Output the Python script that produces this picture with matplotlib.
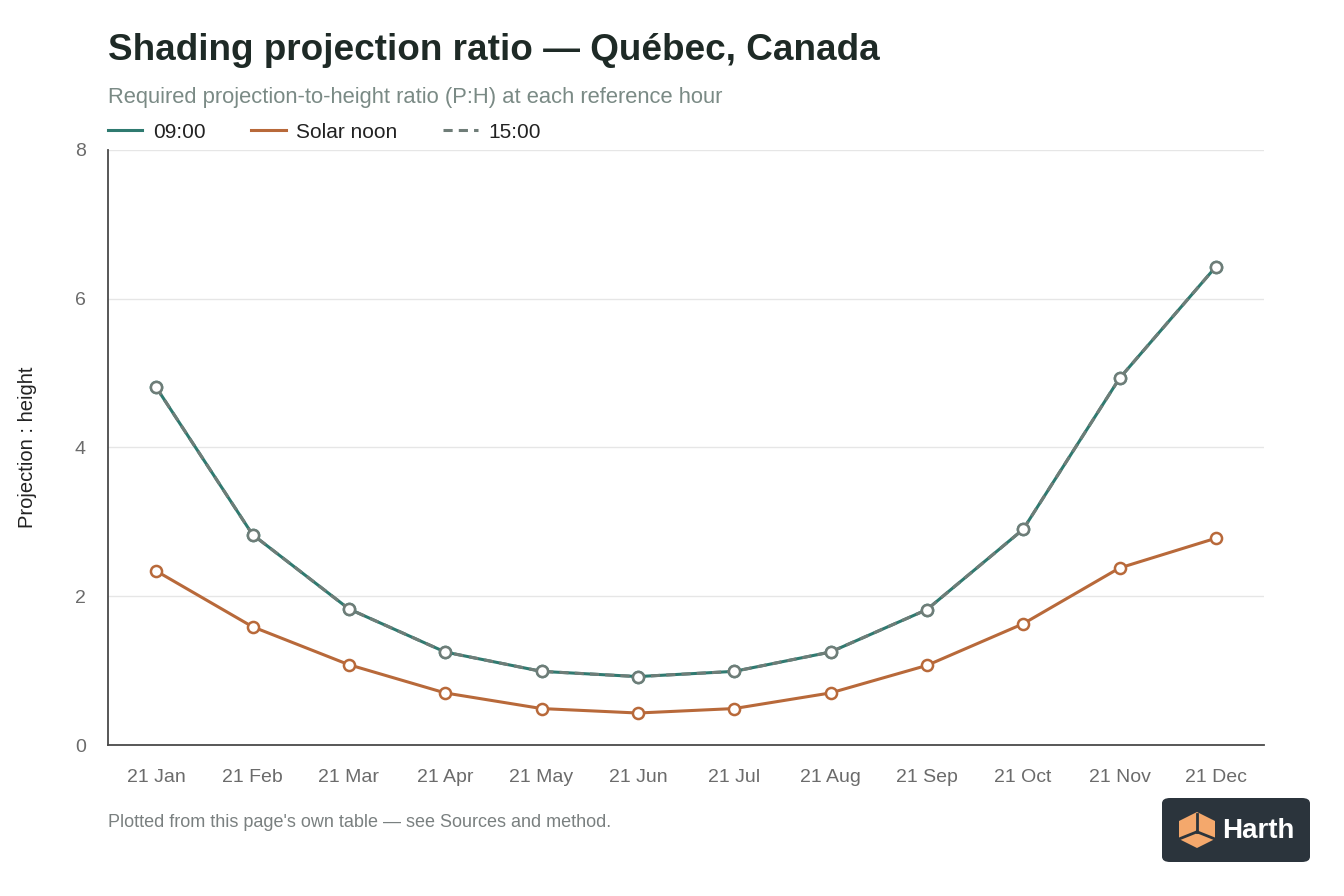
import matplotlib.pyplot as plt
import matplotlib.patches as mpatches
import numpy as np

plt.rcParams['font.family'] = ['Liberation Sans', 'DejaVu Sans']

months = ['21 Jan', '21 Feb', '21 Mar', '21 Apr', '21 May', '21 Jun',
          '21 Jul', '21 Aug', '21 Sep', '21 Oct', '21 Nov', '21 Dec']
ratio_0900 = [4.81, 2.83, 1.83, 1.25, 0.99, 0.92, 0.99, 1.25, 1.82, 2.90, 4.93, 6.43]
ratio_noon = [2.34, 1.59, 1.08, 0.70, 0.49, 0.43, 0.49, 0.70, 1.07, 1.63, 2.38, 2.78]
ratio_1500 = [4.81, 2.83, 1.83, 1.25, 0.99, 0.92, 0.99, 1.25, 1.82, 2.90, 4.93, 6.43]

teal = '#2f7a70'
orange = '#b8693a'
grey = '#6f7d78'

fig = plt.figure(figsize=(13.44, 8.96), dpi=100)
ax = fig.add_axes([108/1344, 1 - 745/896, (1264 - 108)/1344, (745 - 150)/896])

x = np.arange(len(months))
mk = dict(marker='o', markersize=8, markerfacecolor='white', markeredgewidth=1.8)
ax.plot(x, ratio_0900, color=teal, linewidth=2.2, label='09:00', zorder=3,
        markeredgecolor=teal, **mk)
ax.plot(x, ratio_noon, color=orange, linewidth=2.2, label='Solar noon', zorder=3,
        markeredgecolor=orange, **mk)
ax.plot(x, ratio_1500, color=grey, linewidth=2.2, linestyle=(0, (3, 2)), label='15:00',
        zorder=4, markeredgecolor=grey, **mk)

ax.set_xlim(-0.5, len(months) - 0.5)
ax.set_ylim(0, 8)
ax.set_yticks([0, 2, 4, 6, 8])
ax.set_xticks(x)
ax.set_xticklabels(months)
ax.tick_params(axis='both', length=0, labelsize=14, labelcolor='#6b6b6b')
ax.tick_params(axis='x', pad=17)
ax.tick_params(axis='y', pad=16)
ax.yaxis.grid(True, color='#e6e6e6', linewidth=1)
ax.set_axisbelow(True)
for s in ['top', 'right']:
    ax.spines[s].set_visible(False)
for s in ['left', 'bottom']:
    ax.spines[s].set_color('#4a4a4a')
    ax.spines[s].set_linewidth(1.3)
ax.set_ylabel('Projection : height', fontsize=14.5, color='#222222')
ax.yaxis.set_label_coords(-0.061, 0.5)

# legend line handles only
handles = [
    plt.Line2D([], [], color=teal, linewidth=2.2),
    plt.Line2D([], [], color=orange, linewidth=2.2),
    plt.Line2D([], [], color=grey, linewidth=2.2, linestyle=(0, (3, 2))),
]
fig.legend(handles, ['09:00', 'Solar noon', '15:00'], loc='center left',
           bbox_to_anchor=(108/1344, 1 - 132/896), ncol=3, frameon=False,
           fontsize=15, handlelength=1.65, handletextpad=0.5, columnspacing=2.2,
           borderpad=0, borderaxespad=0, labelcolor='#222222')

fig.text(108/1344, 1 - 50/896, 'Shading projection ratio — Québec, Canada',
         fontsize=26.6, fontweight='bold', color='#1e2a26', va='center', ha='left')
fig.text(108/1344, 1 - 97/896, 'Required projection-to-height ratio (P:H) at each reference hour',
         fontsize=15.8, color='#7a8a85', va='center', ha='left')
fig.text(108/1344, 1 - 822/896, "Plotted from this page's own table — see Sources and method.",
         fontsize=13, color='#7a8080', va='center', ha='left')

# logo badge
badge = mpatches.FancyBboxPatch((1162/1344, 1 - 862/896), 148/1344, 64/896,
                                boxstyle='round,pad=0,rounding_size=0.006',
                                transform=fig.transFigure, facecolor='#2b343c',
                                edgecolor='none')
fig.patches.append(badge)
cx, cy = 1197/1344, 1 - 830/896
w, h = 18/1344, 18/896
cube = mpatches.Polygon([(cx - w, cy + h * 0.5), (cx, cy + h), (cx + w, cy + h * 0.5),
                         (cx + w, cy - h * 0.5), (cx, cy - h), (cx - w, cy - h * 0.5)],
                        closed=True, transform=fig.transFigure, facecolor='#f4a86c',
                        edgecolor='none')
fig.patches.append(cube)
for (x1, y1) in [(cx, cy + h), (cx - w, cy - h * 0.5), (cx + w, cy - h * 0.5)]:
    fig.lines.append(plt.Line2D([cx, x1], [cy - h * 0.1, y1 if y1 < cy else cy + h * 0.9],
                                transform=fig.transFigure, color='#2b343c', linewidth=2))
fig.text(1222/1344, 1 - 831/896, 'Harth', fontsize=20, fontweight='bold',
         color='white', va='center', ha='left')

fig.savefig('out.png', dpi=100, facecolor='white')
